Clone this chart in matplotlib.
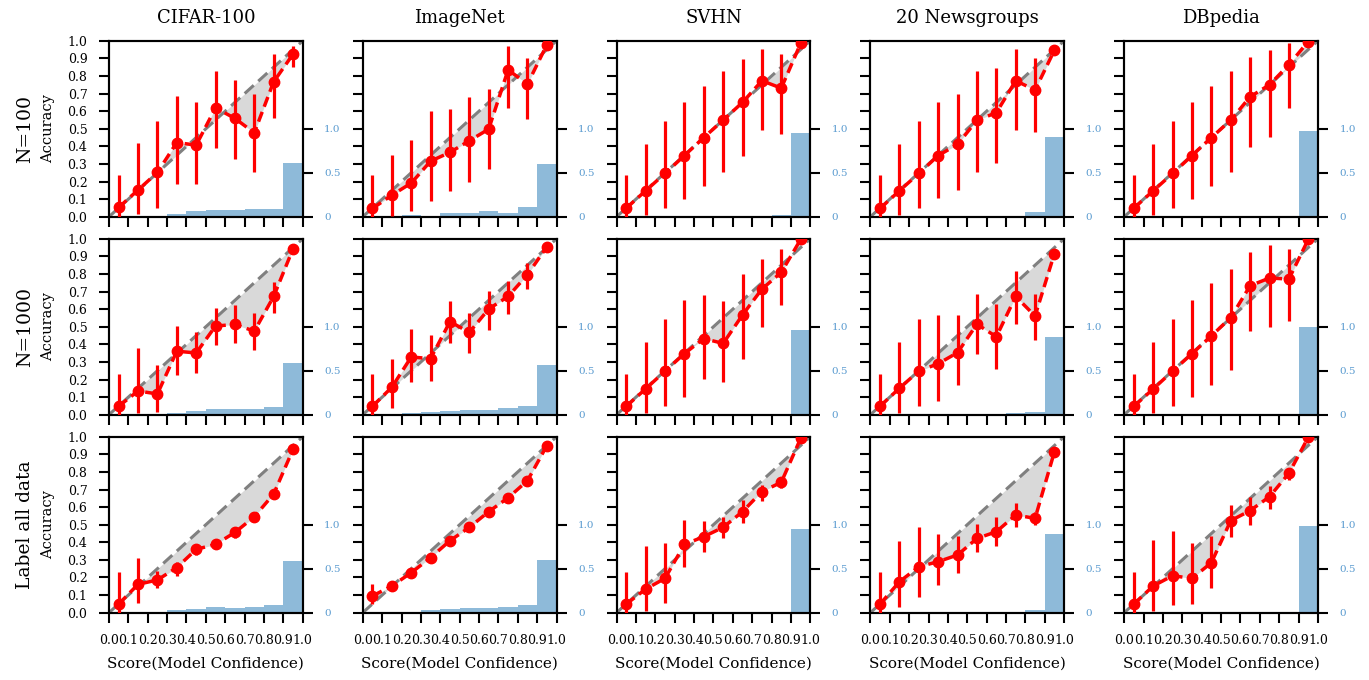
import numpy as np
import matplotlib
matplotlib.use("Agg")
import matplotlib.pyplot as plt
from matplotlib.ticker import FixedLocator, FixedFormatter

plt.rcParams['font.family'] = ['DejaVu Serif']

datasets = ['CIFAR-100', 'ImageNet', 'SVHN', '20 Newsgroups', 'DBpedia']
row_labels = ['N=100', 'N=1000', 'Label all data']
bin_centers = [0.05, 0.15, 0.25, 0.35, 0.45, 0.55, 0.65, 0.75, 0.85, 0.95]
bin_lefts = [0.0, 0.1, 0.2, 0.3, 0.4, 0.5, 0.6, 0.7, 0.8, 0.9]
ticks = [0.0, 0.1, 0.2, 0.3, 0.4, 0.5, 0.6, 0.7, 0.8, 0.9, 1.0]
tick_labels = ['0.0', '0.1', '0.2', '0.3', '0.4', '0.5', '0.6', '0.7', '0.8', '0.9', '1.0']
frac_ticks = [0.0, 0.5, 1.0]
frac_tick_labels = ['0', '0.5', '1.0']

# ---------------- Row 1: N=100 ----------------
cifar_n100_acc = [0.053, 0.152, 0.252, 0.422, 0.407, 0.619, 0.559, 0.477, 0.767, 0.924]
cifar_n100_lo = [0.0, 0.013, 0.051, 0.184, 0.189, 0.388, 0.330, 0.256, 0.559, 0.852]
cifar_n100_hi = [0.240, 0.417, 0.545, 0.689, 0.650, 0.830, 0.780, 0.697, 0.924, 0.970]
cifar_n100_frac = [0.0, 0.0, 0.0, 0.03, 0.068, 0.076, 0.076, 0.087, 0.087, 0.606]

imagenet_n100_acc = [0.047, 0.123, 0.191, 0.316, 0.366, 0.432, 0.498, 0.835, 0.754, 0.977]
imagenet_n100_lo = [0.0, 0.006, 0.034, 0.091, 0.148, 0.200, 0.271, 0.616, 0.555, 0.955]
imagenet_n100_hi = [0.235, 0.352, 0.436, 0.602, 0.614, 0.680, 0.725, 0.970, 0.900, 1.0]
imagenet_n100_frac = [0.0, 0.0, 0.023, 0.005, 0.042, 0.042, 0.068, 0.042, 0.114, 0.60]

svhn_n100_acc = [0.049, 0.148, 0.246, 0.348, 0.450, 0.549, 0.650, 0.773, 0.731, 0.985]
svhn_n100_lo = [0.0, 0.011, 0.047, 0.100, 0.172, 0.252, 0.347, 0.494, 0.470, 0.970]
svhn_n100_hi = [0.235, 0.413, 0.545, 0.653, 0.744, 0.826, 0.896, 0.953, 0.924, 1.0]
svhn_n100_frac = [0.0, 0.0, 0.0, 0.0, 0.0, 0.0, 0.0, 0.0, 0.023, 0.955]

news_n100_acc = [0.047, 0.148, 0.246, 0.348, 0.411, 0.549, 0.591, 0.773, 0.720, 0.947]
news_n100_lo = [0.0, 0.011, 0.047, 0.104, 0.152, 0.252, 0.303, 0.494, 0.483, 0.924]
news_n100_hi = [0.235, 0.413, 0.545, 0.653, 0.697, 0.826, 0.845, 0.953, 0.900, 0.977]
news_n100_frac = [0.0, 0.0, 0.0, 0.0, 0.0, 0.0, 0.0, 0.0, 0.057, 0.909]

dbpedia_n100_acc = [0.049, 0.148, 0.246, 0.348, 0.450, 0.549, 0.682, 0.750, 0.864, 0.996]
dbpedia_n100_lo = [0.0, 0.011, 0.047, 0.100, 0.172, 0.252, 0.394, 0.455, 0.617, 0.985]
dbpedia_n100_hi = [0.235, 0.413, 0.545, 0.653, 0.744, 0.826, 0.909, 0.949, 0.989, 1.0]
dbpedia_n100_frac = [0.0, 0.0, 0.0, 0.0, 0.0, 0.0, 0.0, 0.0, 0.0, 0.98]

# ---------------- Row 2: N=1000 ----------------
cifar_n1000_acc = [0.048, 0.135, 0.118, 0.361, 0.351, 0.504, 0.513, 0.475, 0.672, 0.943]
cifar_n1000_lo = [0.0, 0.008, 0.017, 0.223, 0.237, 0.395, 0.405, 0.370, 0.576, 0.930]
cifar_n1000_hi = [0.233, 0.380, 0.280, 0.506, 0.471, 0.605, 0.622, 0.576, 0.754, 0.955]
cifar_n1000_frac = [0.0, 0.0, 0.0, 0.019, 0.042, 0.065, 0.065, 0.065, 0.092, 0.588]

imagenet_n1000_acc = [0.048, 0.156, 0.328, 0.319, 0.529, 0.468, 0.601, 0.672, 0.796, 0.954]
imagenet_n1000_lo = [0.0, 0.036, 0.185, 0.189, 0.405, 0.353, 0.481, 0.573, 0.714, 0.940]
imagenet_n1000_hi = [0.233, 0.319, 0.489, 0.452, 0.647, 0.580, 0.704, 0.761, 0.863, 0.966]
imagenet_n1000_frac = [0.0, 0.005, 0.023, 0.034, 0.046, 0.057, 0.057, 0.080, 0.095, 0.57]

svhn_n1000_acc = [0.048, 0.147, 0.248, 0.347, 0.433, 0.405, 0.567, 0.714, 0.809, 0.996]
svhn_n1000_lo = [0.0, 0.008, 0.048, 0.103, 0.204, 0.185, 0.319, 0.496, 0.624, 0.985]
svhn_n1000_hi = [0.233, 0.414, 0.542, 0.653, 0.681, 0.647, 0.800, 0.887, 0.939, 1.0]
svhn_n1000_frac = [0.0, 0.0, 0.0, 0.0, 0.0, 0.0, 0.0, 0.0, 0.008, 0.962]

news_n1000_acc = [0.048, 0.151, 0.248, 0.290, 0.353, 0.515, 0.443, 0.672, 0.561, 0.916]
news_n1000_lo = [0.0, 0.008, 0.048, 0.080, 0.170, 0.347, 0.261, 0.513, 0.427, 0.905]
news_n1000_hi = [0.233, 0.414, 0.542, 0.567, 0.567, 0.685, 0.630, 0.819, 0.687, 0.928]
news_n1000_frac = [0.0, 0.0, 0.0, 0.0, 0.0, 0.006, 0.006, 0.023, 0.034, 0.88]

dbpedia_n1000_acc = [0.048, 0.147, 0.248, 0.347, 0.448, 0.552, 0.733, 0.777, 0.771, 0.996]
dbpedia_n1000_lo = [0.0, 0.008, 0.048, 0.103, 0.170, 0.252, 0.473, 0.500, 0.534, 0.985]
dbpedia_n1000_hi = [0.233, 0.414, 0.542, 0.653, 0.748, 0.828, 0.927, 0.962, 0.939, 1.0]
dbpedia_n1000_frac = [0.0, 0.0, 0.0, 0.0, 0.0, 0.0, 0.0, 0.0, 0.0, 0.992]

# ---------------- Row 3: Label all data ----------------
cifar_all_acc = [0.049, 0.161, 0.186, 0.256, 0.360, 0.388, 0.456, 0.545, 0.674, 0.928]
cifar_all_lo = [0.0, 0.053, 0.138, 0.208, 0.328, 0.360, 0.422, 0.515, 0.648, 0.920]
cifar_all_hi = [0.233, 0.313, 0.239, 0.290, 0.390, 0.419, 0.489, 0.574, 0.697, 0.936]
cifar_all_frac = [0.0, 0.0, 0.0, 0.030, 0.042, 0.061, 0.049, 0.061, 0.087, 0.589]

imagenet_all_acc = [0.095, 0.152, 0.227, 0.313, 0.409, 0.485, 0.574, 0.653, 0.750, 0.949]
imagenet_all_lo = [0.047, 0.140, 0.217, 0.303, 0.399, 0.475, 0.564, 0.643, 0.740, 0.944]
imagenet_all_hi = [0.163, 0.164, 0.237, 0.323, 0.419, 0.495, 0.584, 0.663, 0.760, 0.954]
imagenet_all_frac = [0.0, 0.0, 0.011, 0.030, 0.042, 0.049, 0.049, 0.065, 0.087, 0.60]

svhn_all_acc = [0.049, 0.134, 0.195, 0.388, 0.432, 0.485, 0.574, 0.688, 0.741, 0.990]
svhn_all_lo = [0.0, 0.009, 0.053, 0.261, 0.347, 0.422, 0.508, 0.636, 0.706, 0.985]
svhn_all_hi = [0.233, 0.379, 0.394, 0.527, 0.521, 0.542, 0.640, 0.725, 0.763, 0.995]
svhn_all_frac = [0.0, 0.0, 0.0, 0.0, 0.0, 0.0, 0.0, 0.0, 0.0, 0.954]

news_all_acc = [0.049, 0.176, 0.261, 0.290, 0.328, 0.422, 0.460, 0.555, 0.536, 0.915]
news_all_lo = [0.0, 0.034, 0.091, 0.157, 0.227, 0.343, 0.381, 0.485, 0.500, 0.905]
news_all_hi = [0.233, 0.407, 0.489, 0.445, 0.436, 0.502, 0.542, 0.625, 0.570, 0.925]
news_all_frac = [0.0, 0.0, 0.0, 0.0, 0.0, 0.0, 0.0, 0.011, 0.027, 0.897]

dbpedia_all_acc = [0.049, 0.152, 0.210, 0.195, 0.284, 0.523, 0.580, 0.659, 0.792, 0.996]
dbpedia_all_lo = [0.0, 0.009, 0.044, 0.049, 0.138, 0.432, 0.498, 0.591, 0.754, 0.990]
dbpedia_all_hi = [0.233, 0.413, 0.466, 0.398, 0.436, 0.610, 0.655, 0.720, 0.814, 1.0]
dbpedia_all_frac = [0.0, 0.0, 0.0, 0.0, 0.0, 0.0, 0.0, 0.0, 0.0, 0.989]

panels = [
    [(cifar_n100_acc, cifar_n100_lo, cifar_n100_hi, cifar_n100_frac),
     (imagenet_n100_acc, imagenet_n100_lo, imagenet_n100_hi, imagenet_n100_frac),
     (svhn_n100_acc, svhn_n100_lo, svhn_n100_hi, svhn_n100_frac),
     (news_n100_acc, news_n100_lo, news_n100_hi, news_n100_frac),
     (dbpedia_n100_acc, dbpedia_n100_lo, dbpedia_n100_hi, dbpedia_n100_frac)],
    [(cifar_n1000_acc, cifar_n1000_lo, cifar_n1000_hi, cifar_n1000_frac),
     (imagenet_n1000_acc, imagenet_n1000_lo, imagenet_n1000_hi, imagenet_n1000_frac),
     (svhn_n1000_acc, svhn_n1000_lo, svhn_n1000_hi, svhn_n1000_frac),
     (news_n1000_acc, news_n1000_lo, news_n1000_hi, news_n1000_frac),
     (dbpedia_n1000_acc, dbpedia_n1000_lo, dbpedia_n1000_hi, dbpedia_n1000_frac)],
    [(cifar_all_acc, cifar_all_lo, cifar_all_hi, cifar_all_frac),
     (imagenet_all_acc, imagenet_all_lo, imagenet_all_hi, imagenet_all_frac),
     (svhn_all_acc, svhn_all_lo, svhn_all_hi, svhn_all_frac),
     (news_all_acc, news_all_lo, news_all_hi, news_all_frac),
     (dbpedia_all_acc, dbpedia_all_lo, dbpedia_all_hi, dbpedia_all_frac)],
]

fig, axes = plt.subplots(3, 5, figsize=(13.69, 6.8), dpi=100,
                         gridspec_kw=dict(left=0.0796, right=0.9627, top=0.940,
                                          bottom=0.099, wspace=0.31, hspace=0.125))

x = np.array(bin_centers)
bar_color = '#1f77b4'
right_label_color = '#5a9bd0'

for r in range(3):
    for c in range(5):
        ax = axes[r, c]
        acc, lo, hi, frac = [np.array(v) for v in panels[r][c]]
        ax2 = ax.twinx()
        ax2.bar(bin_lefts, frac, width=0.1, align='edge', color=bar_color,
                alpha=0.5, linewidth=0)
        ax2.set_ylim(0, 2)
        ax2.yaxis.set_major_locator(FixedLocator(frac_ticks))
        ax2.yaxis.set_major_formatter(FixedFormatter(frac_tick_labels))
        ax2.tick_params(axis='y', which='major', length=7.5, width=1.5, pad=8,
                        labelsize=7.5, labelcolor=right_label_color, color='black')
        for sp in ax2.spines.values():
            sp.set_linewidth(1.5)

        ax.set_zorder(ax2.get_zorder() + 1)
        ax.patch.set_visible(False)

        ax.plot([0, 1], [0, 1], linestyle='--', color='gray', linewidth=2.2,
                dashes=(4, 2), zorder=2)
        ax.fill_between(x, x, acc, color='lightgray', alpha=0.85, linewidth=0, zorder=1)
        yerr = np.vstack([acc - lo, hi - acc])
        ax.errorbar(x, acc, yerr=yerr, fmt='none', ecolor='red', elinewidth=2.3,
                    capsize=0, zorder=3)
        ax.plot(x, acc, linestyle='--', color='red', linewidth=2.5, dashes=(3, 1.6),
                marker='o', markersize=7.5, zorder=4)
        ax.set_xlim(0, 1)
        ax.set_ylim(0, 1)
        ax.set_xticks(ticks)
        ax.set_yticks(ticks)
        ax.tick_params(axis='both', which='major', length=7.5, width=1.5, pad=8,
                       labelsize=9)
        if r == 2:
            ax.set_xticklabels(tick_labels)
            ax.set_xlabel('Score(Model Confidence)', fontsize=11, labelpad=7)
        else:
            ax.set_xticklabels([])
        if c == 0:
            ax.set_yticklabels(tick_labels)
            ax.set_ylabel('Accuracy', fontsize=10.5, labelpad=9)
        else:
            ax.set_yticklabels([])
        for sp in ax.spines.values():
            sp.set_linewidth(1.5)
        if r == 0:
            ax.set_title(datasets[c], fontsize=13, pad=13)

    pos = axes[r, 0].get_position()
    fig.text(25 / 1369, (pos.y0 + pos.y1) / 2, row_labels[r], rotation=90,
             ha='center', va='center', fontsize=13.5)

fig.savefig('out.png', dpi=100)
